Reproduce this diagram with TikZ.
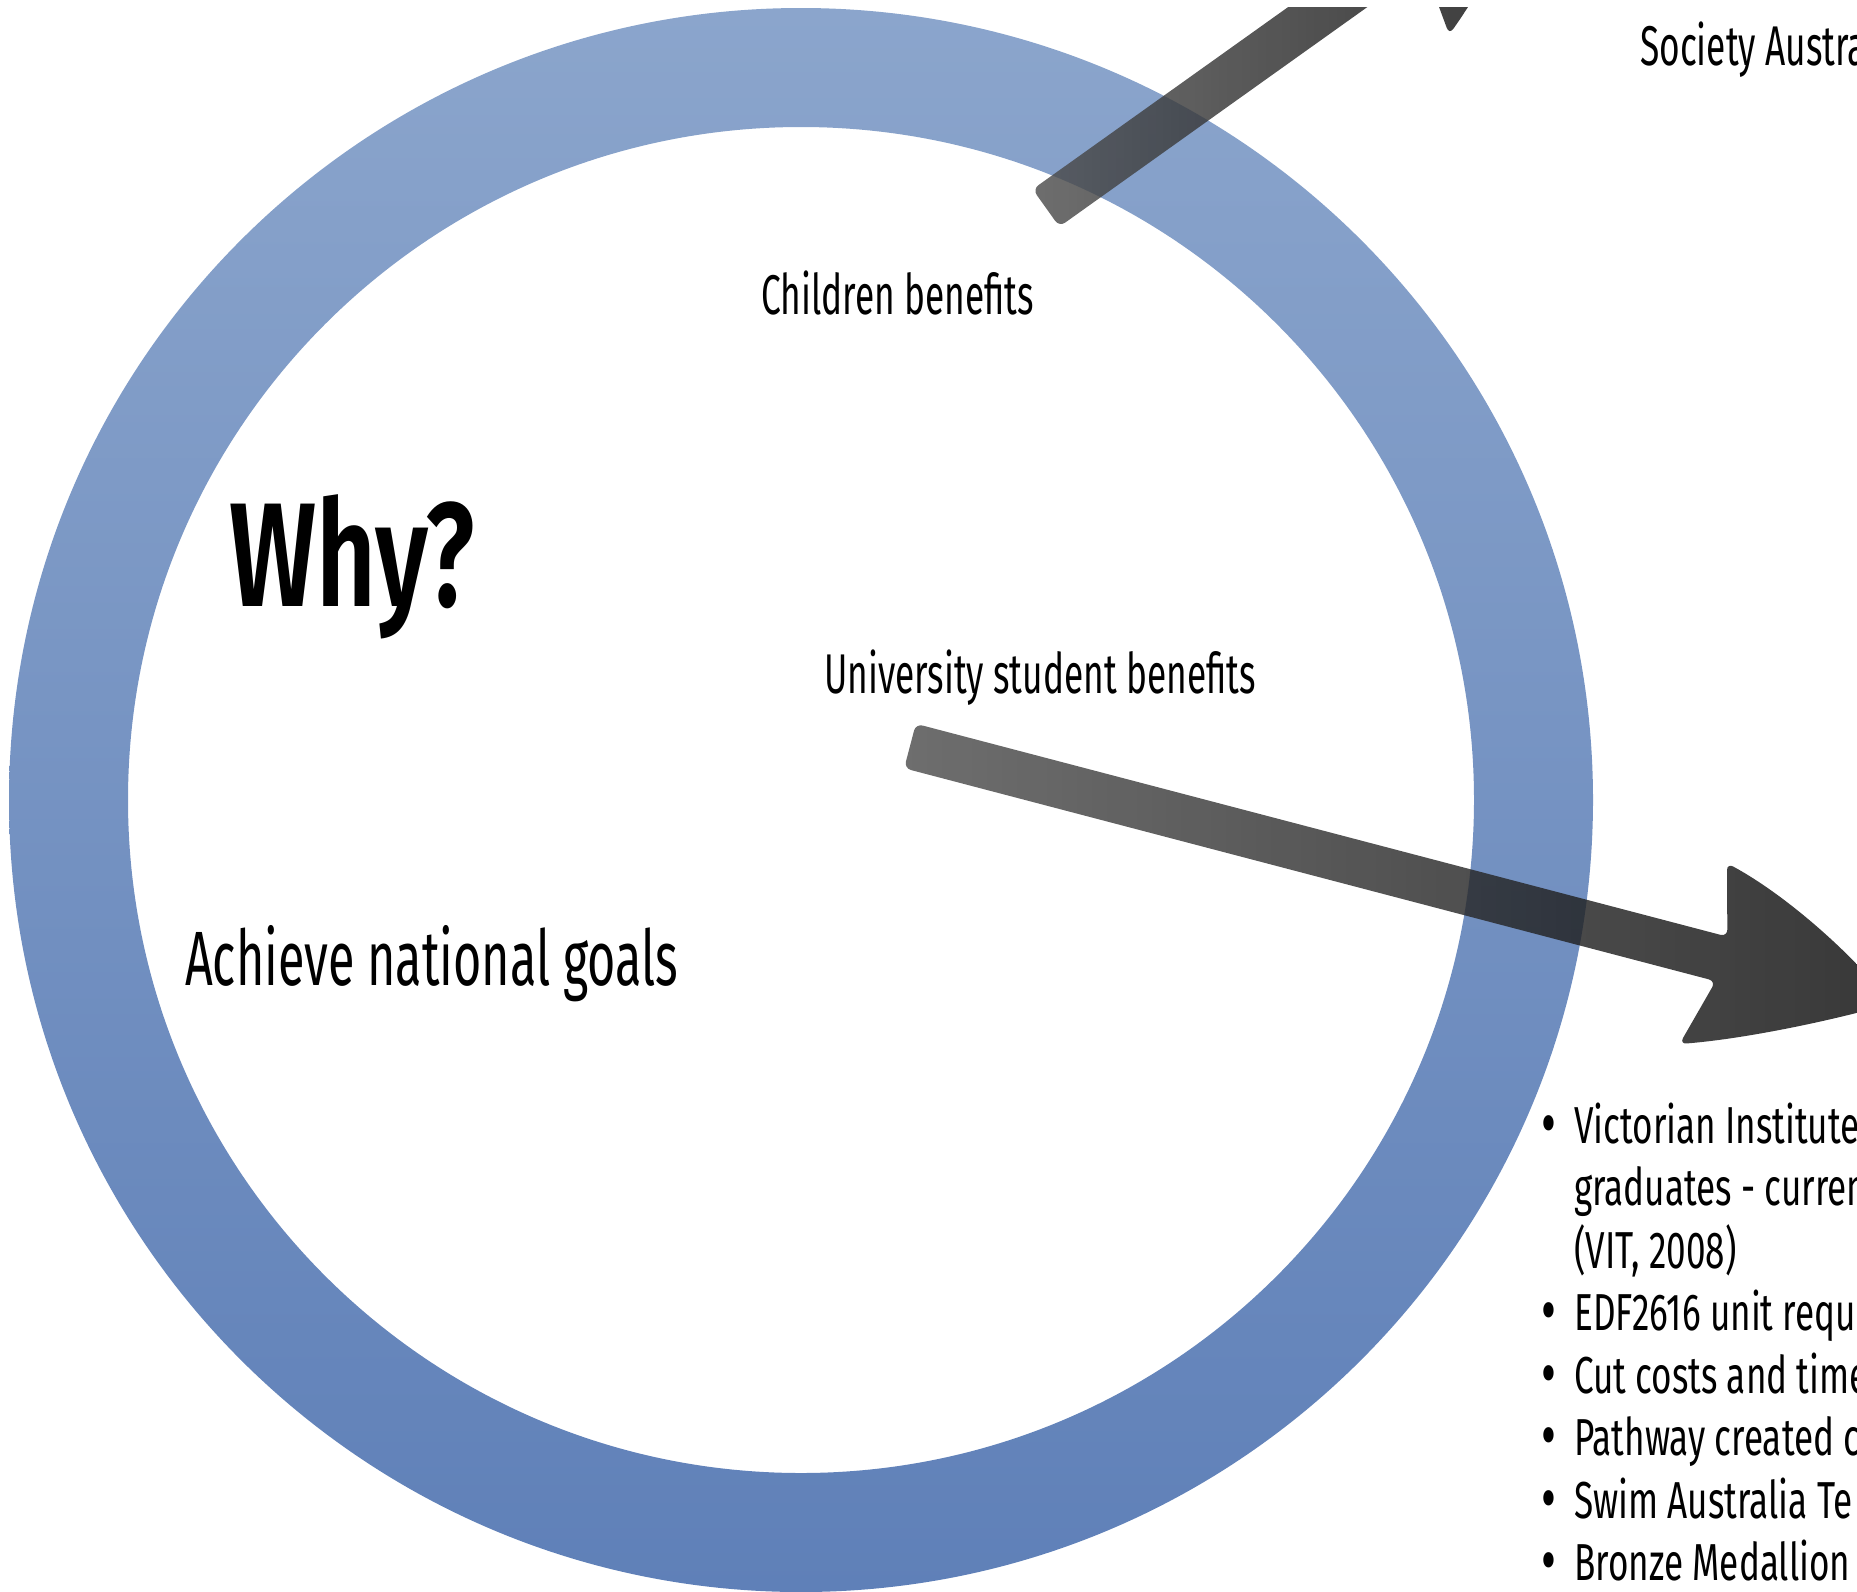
\documentclass[tikz,border=0pt]{standalone}
\usepackage{fontspec}
\setmainfont{Fira Sans}[FakeStretch=0.63]
\newfontfamily\listfont{Fira Sans}[FakeStretch=0.675]
\newfontfamily\whyfont{Fira Sans SemiBold}[FakeStretch=0.7]
\usetikzlibrary{positioning}

\definecolor{ringtop}{RGB}{139,165,204}
\definecolor{ringbottom}{RGB}{95,128,184}
\definecolor{arrowlight}{RGB}{78,78,78}
\definecolor{arrowdark}{RGB}{12,12,12}

% fat arrow along +x, #1 = where the barbs of the head sit
\newcommand{\benefitarrow}[1]{%
  \shade[left color=arrowlight, right color=arrowdark, fill opacity=0.82, rounded corners=7]
    (0,-23) -- ({#1+19},-23) -- (#1,-94)
    .. controls ({#1+65},-78) and ({#1+140},-40) .. ({#1+195},0)
    .. controls ({#1+135},35) and ({#1+60},72) .. (#1,93)
    -- ({#1+19},23) -- (0,23) -- cycle;}
\newcommand{\itemdot}{\makebox[33pt][l]{\raisebox{-3pt}{\fontsize{68}{68}\selectfont\textbullet}}}

\begin{document}
\begin{tikzpicture}[x=1pt, y=-1pt, node distance=62.5pt,
    every node/.style={inner sep=0pt, anchor=base west},
    benefit/.style={font=\fontsize{56}{67}\selectfont},
    listline/.style={anchor=base west, font=\listfont\fontsize{52}{62}\selectfont}]
  \useasboundingbox (0,0) rectangle (1857,1591);
  \clip (0,7) rectangle (1857,1591);

  % the ring
  \coordinate (centre) at (801,800);
  \shade[top color=ringtop, bottom color=ringbottom, even odd rule]
    (centre) circle[radius=792] (centre) circle[radius=673];

  % arrows out of the ring
  \coordinate (uni) at (910,746);
  \coordinate (soc) at (1046,208);
  \begin{scope}[shift={(uni)}, rotate=-14.7]
    \benefitarrow{820}
  \end{scope}
  \begin{scope}[shift={(soc)}, rotate=35.5]
    \benefitarrow{429}
  \end{scope}

  \node[benefit] (children) at (761,314) {Children benefits};
  \node[benefit] (students) at (824,693) {University student benefits};
  \node[benefit] (society) at (1640,65) {Society Austra};
  \node[font=\whyfont\fontsize{148}{150}\selectfont] (why) at (229,606) {Why?};
  \node[font=\fontsize{77}{90}\selectfont] (goals) at (185,985) {Achieve national goals};

  % what the students get
  \node[listline] (vit) at (1541,1143) {\itemdot Victorian Institute};
  \node[below=of vit.base west, listline] (grad) {\hspace*{33pt}graduates - curren};
  \node[below=of grad.base west, listline] (year) {\hspace*{33pt}(VIT, 2008)};
  \node[below=of year.base west, listline] (unit) {\itemdot EDF2616 unit requ};
  \node[below=of unit.base west, listline] (cost) {\itemdot Cut costs and time};
  \node[below=of cost.base west, listline] (path) {\itemdot Pathway created c};
  \node[below=of path.base west, listline] (swim) {\itemdot Swim Australia Te};
  \node[below=of swim.base west, listline] (bronze) {\itemdot Bronze Medallion (};
\end{tikzpicture}
\end{document}
